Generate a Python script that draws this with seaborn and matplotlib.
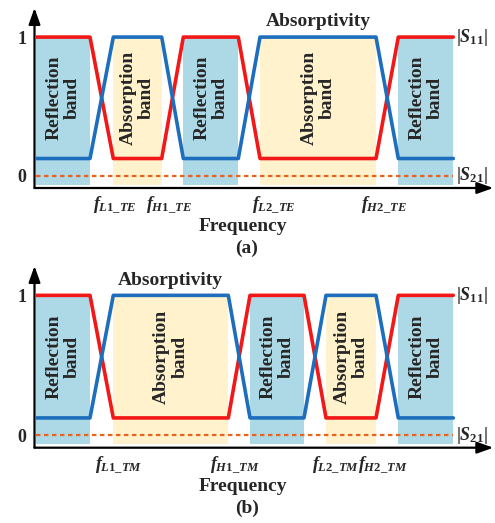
import numpy as np
import pandas as pd
import matplotlib
matplotlib.use("Agg")
import matplotlib.pyplot as plt
import seaborn as sns

# ---------------- data ----------------
low_level = 0.123          # low level of the schematic curves
s21_level = 0.0

# Breakpoints of the trapezoidal curves (frequency, arbitrary units)
x_te = [1.5, 55.5, 78.8, 127.2, 148.8, 203.8, 225.5, 341.5, 363.8, 418.8]
x_tm = [1.5, 55.5, 78.8, 193.8, 215.5, 269.5, 291.5, 341.5, 363.8, 418.8]
red_levels = [1, 1, low_level, low_level, 1, 1, low_level, low_level, 1, 1]
blue_levels = [low_level, low_level, 1, 1, low_level, low_level, 1, 1, low_level, low_level]

band_types = ["R", "A", "R", "A", "R"]

ticks_te = [80.5, 134.5, 239.5, 349.2]
labels_te = [r"$f_{\mathit{L1\_TE}}$", r"$f_{\mathit{H1\_TE}}$",
             r"$f_{\mathit{L2\_TE}}$", r"$f_{\mathit{H2\_TE}}$"]
ticks_tm = [83.8, 200.5, 301.5, 348.8]
labels_tm = [r"$f_{\mathit{L1\_TM}}$", r"$f_{\mathit{H1\_TM}}$",
             r"$f_{\mathit{L2\_TM}}$", r"$f_{\mathit{H2\_TM}}$"]

absorp_te = (283.8, 1.11)
absorp_tm = (135.5, 1.108)

# ---------------- style ----------------
sns.set_theme(style="white")
plt.rcParams["font.family"] = ["Liberation Serif", "DejaVu Serif"]
plt.rcParams["font.weight"] = "bold"
plt.rcParams["mathtext.fontset"] = "custom"
plt.rcParams["mathtext.rm"] = "Liberation Serif:bold"
plt.rcParams["mathtext.it"] = "Liberation Serif:italic:bold"
plt.rcParams["mathtext.bf"] = "Liberation Serif:bold"

RED = "#F21818"
BLUE = "#1E6EBE"
LBLUE = "#ADD8E6"
BEIGE = "#FFF2CC"
ORANGE = "#E8641E"

fig = plt.figure(figsize=(4.95, 5.23), dpi=100)
W, H = 495, 523


def add_axes_px(left, right, top, bottom):
    return fig.add_axes([left / W, 1 - bottom / H, (right - left) / W, (bottom - top) / H])


ax_top = add_axes_px(34.5, 493.3, 8, 188)
ax_bot = add_axes_px(34.5, 493.3, 266, 447.7)


def draw_panel(ax, xb, ticks, tlabels, absorp):
    ax.set_xlim(0, 458.8)
    ax.set_ylim(-0.09, 1.21)
    # shaded bands
    for i, t in enumerate(band_types):
        a, b = xb[2 * i], xb[2 * i + 1]
        ax.fill_between([a, b], -0.065, 1, color=LBLUE if t == "R" else BEIGE,
                        linewidth=0, zorder=0)
        txt = "Reflection\nband" if t == "R" else "Absorption\nband"
        ax.text((a + b) / 2, 0.56, txt, rotation=90, ha="center", va="center",
                multialignment="center", fontsize=14, fontweight="bold",
                linespacing=1.08, zorder=3)
    df = pd.DataFrame({"f": xb, "S11": red_levels, "S21": blue_levels})
    sns.lineplot(data=df, x="f", y="S11", ax=ax, color=RED, lw=2.6,
                 estimator=None, sort=False, zorder=4)
    sns.lineplot(data=df, x="f", y="S21", ax=ax, color=BLUE, lw=2.6,
                 estimator=None, sort=False, zorder=4)
    dfd = pd.DataFrame({"f": [xb[0], xb[-1]], "v": [s21_level, s21_level]})
    sns.lineplot(data=dfd, x="f", y="v", ax=ax, color=ORANGE, lw=1.6,
                 estimator=None, sort=False, linestyle=(0, (2, 1.6)), zorder=4)

    for s in ax.spines.values():
        s.set_visible(False)
    arrow = dict(arrowstyle="-|>,head_length=0.7,head_width=0.25", lw=1.6,
                 color="black", mutation_scale=14, shrinkA=0, shrinkB=0)
    ax.annotate("", xy=(1, 0), xytext=(0, 0), xycoords="axes fraction",
                textcoords="axes fraction", arrowprops=arrow)
    ax.annotate("", xy=(0, 1), xytext=(0, 0), xycoords="axes fraction",
                textcoords="axes fraction", arrowprops=arrow)

    ax.set_yticks([0, 1], labels=["0", "1"])
    ax.set_xticks(ticks, labels=tlabels)
    ax.tick_params(axis="y", length=0, pad=6, labelsize=13)
    ax.tick_params(axis="x", length=0, pad=5, labelsize=13)
    for lab in ax.get_yticklabels():
        lab.set_fontweight("bold")

    ax.set_xlabel("Frequency", fontsize=14, fontweight="bold")
    ax.xaxis.set_label_coords(0.454, -0.165)
    ax.set_ylabel("")

    ax.text(absorp[0], absorp[1], "Absorptivity", ha="center", va="center",
            fontsize=14, fontweight="bold")
    ax.text(xb[-1] + 3, 1, r"$|S_{11}|$", ha="left", va="center", fontsize=13,
            clip_on=False)
    ax.text(xb[-1] + 3, s21_level, r"$|S_{21}|$", ha="left", va="center",
            fontsize=13, clip_on=False)


draw_panel(ax_top, x_te, ticks_te, labels_te, absorp_te)
draw_panel(ax_bot, x_tm, ticks_tm, labels_tm, absorp_tm)

fig.text(247 / W, 1 - 248 / H, "(a)", ha="center", va="center", fontsize=14,
         fontweight="bold")
fig.text(247 / W, 1 - 508 / H, "(b)", ha="center", va="center", fontsize=14,
         fontweight="bold")

fig.savefig("out.png", dpi=100)
